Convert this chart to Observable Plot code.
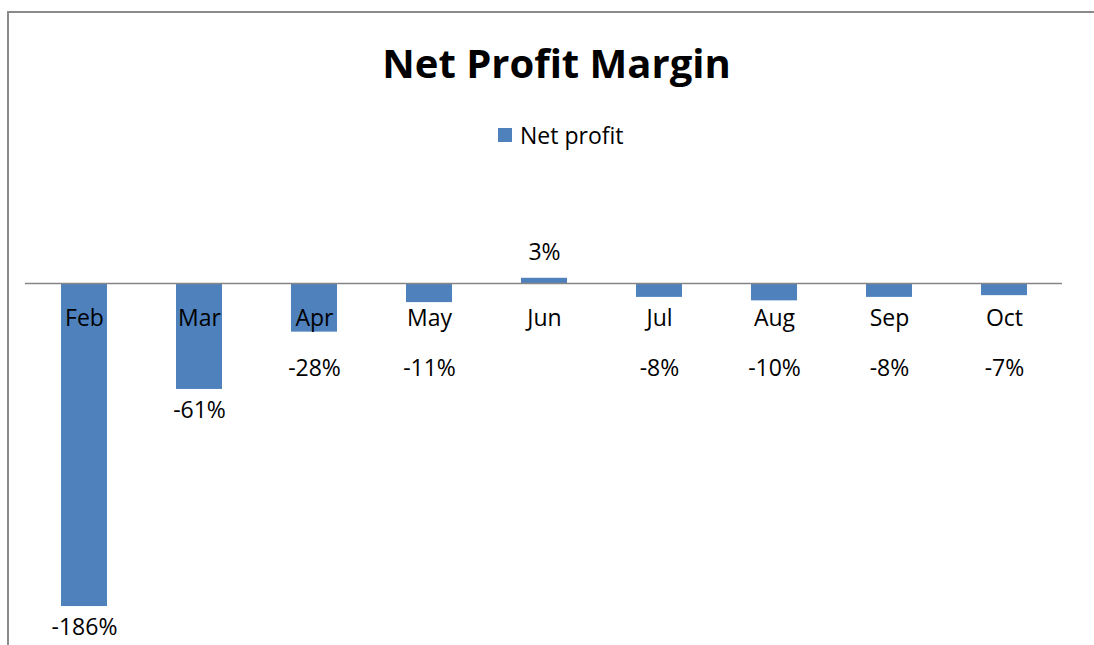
<!DOCTYPE html>
<html>
<head>
<meta charset="utf-8">
<script src="https://cdn.jsdelivr.net/npm/d3@7"></script>
<script src="https://cdn.jsdelivr.net/npm/@observablehq/plot@0.6"></script>
<style>
  html, body { margin: 0; padding: 0; background: #fff; overflow: hidden; }
  #wrap { position: relative; width: 1094px; height: 645px; overflow: hidden; font-family: "Open Sans", sans-serif; }
  #frame { position: absolute; left: 7px; top: 11px; width: 1200px; height: 800px; border-left: 2px solid #8a8a8a; border-top: 2px solid #8a8a8a; pointer-events: none; z-index: 3; }
  #chart { position: absolute; left: 0; top: 0; z-index: 1; }
  #title { position: absolute; left: 0; width: 1113px; top: 39px; text-align: center; font-weight: 700; font-size: 40px; line-height: 48px; color: #000; z-index: 2; }
  #legend { position: absolute; left: 498px; top: 118px; display: flex; align-items: center; font-size: 23px; line-height: 34px; color: #000; z-index: 2; }
  #legend .sw { width: 14px; height: 14px; background: #4F81BD; margin-right: 8px; }
</style>
</head>
<body>
<div id="wrap">
  <div id="frame"></div>
  <div id="title">Net Profit Margin</div>
  <div id="legend"><span class="sw"></span><span>Net profit</span></div>
  <div id="chart"></div>
</div>
<script>
const months = ["Feb", "Mar", "Apr", "May", "Jun", "Jul", "Aug", "Sep", "Oct"];
const netProfit = [-186, -61, -28, -11, 3, -8, -10, -8, -7];
const seriesName = "Net profit";

const data = months.map((m, i) => ({month: m, value: netProfit[i]}));
const neg = data.filter(d => d.value < 0);
const pos = data.filter(d => d.value >= 0);

const chart = Plot.plot({
  width: 1094,
  height: 645,
  marginLeft: 25,
  marginRight: 32,
  marginTop: 248.26,
  marginBottom: 14.64,
  style: {background: "transparent", fontFamily: "'Open Sans', sans-serif"},
  x: {domain: months, paddingInner: 0.6, paddingOuter: 0.3, axis: null},
  y: {domain: [-200, 20], axis: null},
  marks: [
    Plot.barY(data, {x: "month", y: "value", fill: "#4F81BD"}),
    Plot.ruleY([0], {stroke: "#868686", strokeWidth: 1.5}),
    Plot.text(data, {x: "month", y: 0, text: "month", dy: 35, fontSize: 23, fill: "#000"}),
    Plot.text(neg, {x: "month", y: d => Math.min(d.value, -37), text: d => d.value + "%", dy: 21, fontSize: 23, fill: "#000"}),
    Plot.text(pos, {x: "month", y: "value", text: d => d.value + "%", dy: -26, fontSize: 23, fill: "#000"})
  ]
});
document.getElementById("chart").appendChild(chart);
</script>
</body>
</html>
